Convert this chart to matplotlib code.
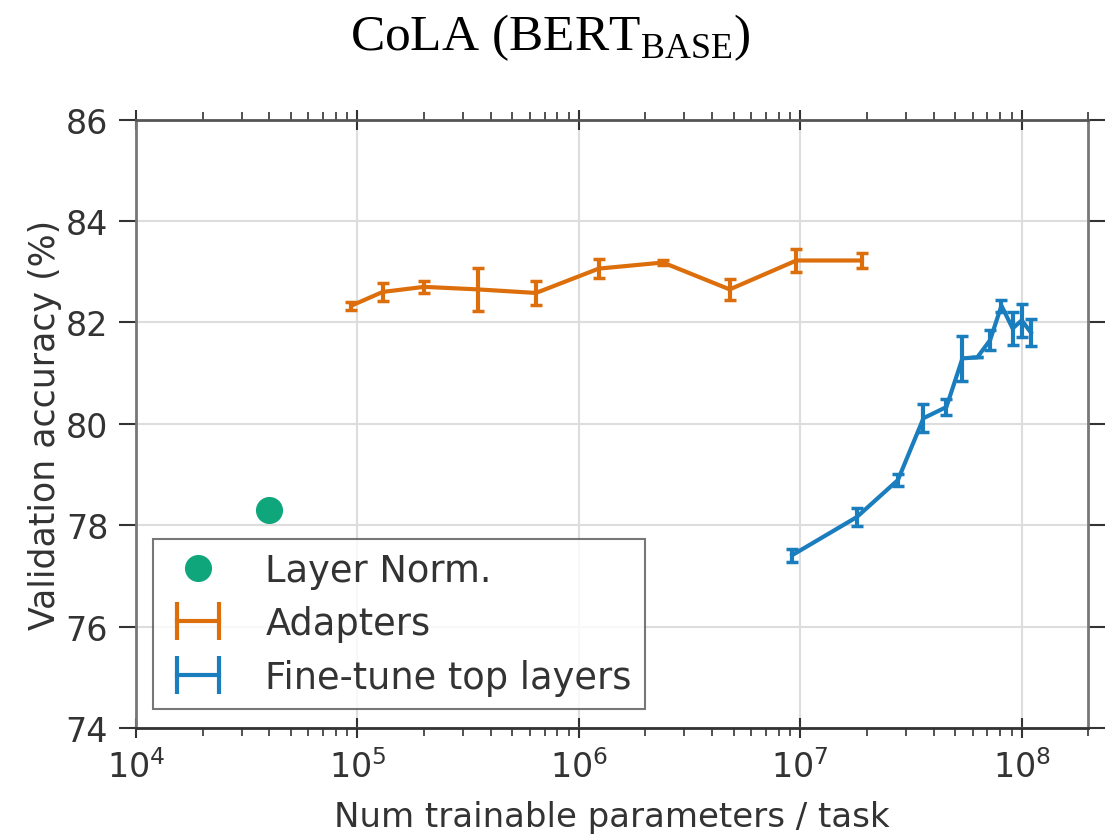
import numpy as np
import matplotlib
matplotlib.use("Agg")
import matplotlib.pyplot as plt
from matplotlib.lines import Line2D
from matplotlib.legend_handler import HandlerLine2D

# values
ln_params = [4.0e4]
ln_acc = [78.3]

adapter_params = [9.4e4, 1.3e5, 2.0e5, 3.5e5, 6.4e5, 1.23e6, 2.4e6, 4.8e6, 9.6e6, 1.9e7]
adapter_acc = [82.33, 82.6, 82.7, 82.65, 82.58, 83.06, 83.18, 82.65, 83.22, 83.22]
adapter_err = [0.08, 0.18, 0.12, 0.42, 0.24, 0.18, 0.05, 0.2, 0.22, 0.15]

topk_params = [9.2e6, 1.8e7, 2.76e7, 3.6e7, 4.57e7, 5.4e7, 6.3e7, 7.2e7, 8.1e7, 9.1e7, 1.0e8, 1.1e8]
topk_acc = [77.41, 78.16, 78.89, 80.11, 80.33, 81.29, 81.31, 81.65, 82.33, 81.88, 82.04, 81.8]
topk_err = [0.13, 0.17, 0.12, 0.28, 0.16, 0.45, 0.0, 0.2, 0.12, 0.33, 0.32, 0.27]

labels = ["Layer Norm.", "Adapters", "Fine-tune top layers"]

green = "#10a67c"
orange = "#dc6e0b"
blue = "#1a7dbd"

plt.rcParams["font.family"] = ["DejaVu Sans"]

fig = plt.figure(figsize=(11.1, 8.37), dpi=100)
ax = fig.add_axes([0.1225, 0.129, 0.858, 0.727])

ax.plot(ln_params, ln_acc, "o", color=green, markersize=18.5)
ax.errorbar(adapter_params, adapter_acc, yerr=adapter_err, color=orange, lw=3,
            elinewidth=3, capsize=4, capthick=2.5)
ax.errorbar(topk_params, topk_acc, yerr=topk_err, color=blue, lw=3,
            elinewidth=3, capsize=4, capthick=2.5)

ax.set_xscale("log")
ax.set_xlim(1e4, 2e8)
ax.set_ylim(74, 86)
ax.set_yticks(np.arange(74, 87, 2))
ax.grid(True, which="major", color="#dddddd", lw=1.5)
ax.set_axisbelow(True)

for s in ax.spines.values():
    s.set_color("#777777")
    s.set_linewidth(2)
ax.spines["bottom"].set_color("#333333")
ax.spines["top"].set_color("#555555")

ax.tick_params(axis="x", which="major", direction="inout", length=14, width=1.5,
               top=True, labelsize=24, colors="#333333", pad=8)
ax.tick_params(axis="x", which="minor", direction="out", length=6, width=1.2,
               top=True, colors="#333333")
ax.tick_params(axis="y", which="major", direction="out", length=12, width=1.5,
               right=True, labelsize=24, colors="#333333", pad=8)

ax.set_xlabel("Num trainable parameters / task", fontsize=24.5, color="#333333", labelpad=12)
ax.set_ylabel("Validation accuracy (%)", fontsize=25, color="#333333", labelpad=3)
fig.text(0.496, 1 - 50 / 837, r"CoLA (BERT$_\mathregular{BASE}$)", fontsize=37,
         family="Liberation Serif", ha="center", va="baseline")

# legend handles drawn as the old "H" shaped errorbar keys
h_ln = Line2D([], [], ls="none", marker="o", color=green, markersize=18.5)
h_ad = Line2D([], [], color=orange, lw=3, marker="|", markersize=27, mew=3)
h_ft = Line2D([], [], color=blue, lw=3, marker="|", markersize=27, mew=3)
leg = ax.legend([h_ln, h_ad, h_ft], labels, loc="lower left", fontsize=26.5,
                fancybox=False, frameon=True, borderpad=0.35, labelspacing=0.45,
                handlelength=1.75, handletextpad=0.95, borderaxespad=0,
                bbox_to_anchor=(0.018, 0.032), labelcolor="#333333",
                handler_map={h_ad: HandlerLine2D(numpoints=2),
                             h_ft: HandlerLine2D(numpoints=2)})
leg.get_frame().set_edgecolor("#555555")
leg.get_frame().set_linewidth(1.5)

fig.savefig("out.png", dpi=100)
